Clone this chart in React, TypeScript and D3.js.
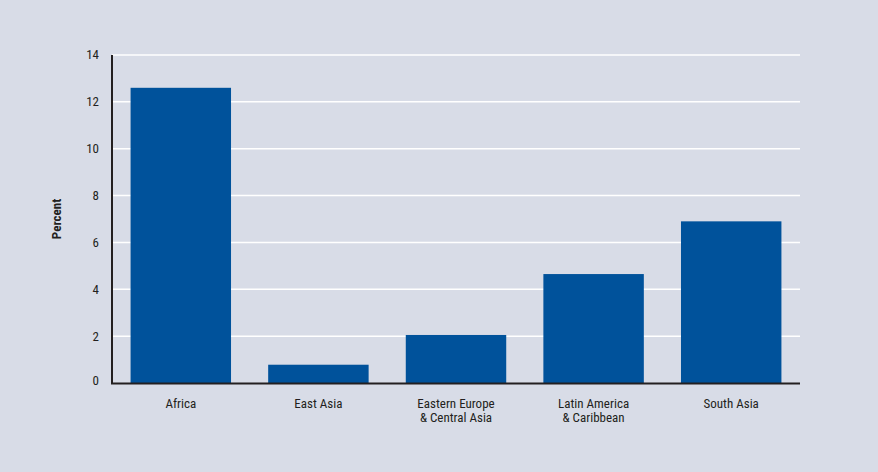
import React, { useRef, useEffect } from 'react';
import * as d3 from 'd3';

// Chart values
const categories = ['Africa', 'East Asia', 'Eastern Europe\n& Central Asia', 'Latin America\n& Caribbean', 'South Asia'];
const values = [12.6, 0.78, 2.05, 4.65, 6.9];
const yTicks = [0, 2, 4, 6, 8, 10, 12, 14];

const W = 878;
const H = 472;
const FONT = '"Liberation Sans Narrow", "Roboto Condensed", "Liberation Sans", Arial, sans-serif';

const App = () => {
  const svgRef = useRef<SVGSVGElement | null>(null);

  useEffect(() => {
    document.body.style.margin = '0';
    const svg = d3.select(svgRef.current);
    svg.selectAll('*').remove();

    const margin = { left: 112, right: 78, top: 55, bottom: 89 };
    const x0 = margin.left;
    const x1 = W - margin.right;
    const y0 = H - margin.bottom; // zero line
    const y1 = margin.top;

    svg.append('rect').attr('width', W).attr('height', H).attr('fill', '#d8dce7');

    const x = d3.scaleBand<string>().domain(categories).range([x0, x1]).paddingInner(0.27).paddingOuter(0.135);
    const y = d3.scaleLinear().domain([0, 14]).range([y0, y1]);

    // gridlines
    svg
      .append('g')
      .selectAll('line')
      .data(yTicks.filter((t) => t > 0))
      .join('line')
      .attr('x1', x0)
      .attr('x2', x1)
      .attr('y1', (d) => y(d))
      .attr('y2', (d) => y(d))
      .attr('stroke', '#ffffff')
      .attr('stroke-width', 1.5);

    // bars
    svg
      .append('g')
      .selectAll('rect')
      .data(values)
      .join('rect')
      .attr('x', (_, i) => x(categories[i])!)
      .attr('width', x.bandwidth())
      .attr('y', (d) => y(d))
      .attr('height', (d) => y0 - y(d))
      .attr('fill', '#00529b');

    // axes lines
    svg.append('line').attr('x1', x0).attr('x2', x0).attr('y1', y1).attr('y2', y0 + 1)
      .attr('stroke', '#231f20').attr('stroke-width', 2);
    svg.append('line').attr('x1', x0 - 1).attr('x2', x1).attr('y1', y0 + 0.5).attr('y2', y0 + 0.5)
      .attr('stroke', '#231f20').attr('stroke-width', 2);

    // y tick labels
    svg
      .append('g')
      .selectAll('text')
      .data(yTicks)
      .join('text')
      .attr('x', 99)
      .attr('y', (d) => y(d) + (d === 0 ? -1 : 1))
      .attr('text-anchor', 'end')
      .attr('dominant-baseline', 'middle')
      .attr('font-family', FONT)
      .attr('font-size', 13)
      .attr('fill', '#231f20')
      .text((d) => d);

    // y axis title
    svg
      .append('text')
      .attr('transform', `translate(61, 219) rotate(-90)`)
      .attr('text-anchor', 'middle')
      .attr('font-family', FONT)
      .attr('font-weight', 'bold')
      .attr('font-size', 13)
      .attr('fill', '#231f20')
      .text('Percent');

    // x labels
    const xl = svg.append('g');
    categories.forEach((c) => {
      c.split('\n').forEach((line, j) => {
        xl.append('text')
          .attr('text-anchor', 'middle')
          .attr('font-family', FONT)
          .attr('font-size', 13)
          .attr('fill', '#231f20')
          .attr('x', x(c)! + x.bandwidth() / 2)
          .attr('y', 408 + j * 13.5)
          .text(line);
      });
    });
  }, []);

  return (
    <div>
      <svg ref={svgRef} width={W} height={H} style={{ display: 'block' }}></svg>
    </div>
  );
};

export default App;
